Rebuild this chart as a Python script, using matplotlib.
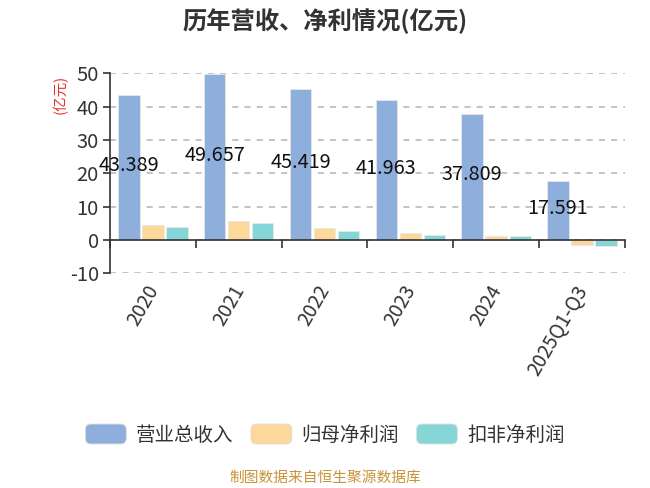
import numpy as np
import matplotlib
matplotlib.use('Agg')
import matplotlib.pyplot as plt
import matplotlib.transforms as mtransforms
from matplotlib.patches import Patch, FancyBboxPatch
from matplotlib.legend_handler import HandlerPatch

plt.rcParams['font.family'] = ['Noto Sans CJK SC', 'DejaVu Sans']
plt.rcParams['axes.unicode_minus'] = False

# data
categories = ['2020', '2021', '2022', '2023', '2024', '2025Q1-Q3']
revenue = [43.389, 49.657, 45.419, 41.963, 37.809, 17.591]
net_profit = [4.6, 5.6, 3.5, 2.0, 1.3, -1.4]
deducted_profit = [3.9, 5.2, 2.6, 1.5, 1.2, -1.7]
series_names = ['营业总收入', '归母净利润', '扣非净利润']
colors = ['#8eaedb', '#fed89a', '#86d6d8']

fig = plt.figure(figsize=(6.5, 4.88), dpi=100)
ax = fig.add_axes([0.1692, 0.44, 0.7923, 0.4098])

x = np.arange(len(categories))
w = 0.25
step = 0.28
for i, vals in enumerate([revenue, net_profit, deducted_profit]):
    ax.bar(x + (i - 1) * step, vals, width=w, color=colors[i],
           edgecolor='#e8e8e8', linewidth=0.6, zorder=3)

# value labels in the middle of revenue bars
for xi, v in zip(x, revenue):
    ax.text(xi - step, v / 2 + 0.6, f'{v:.3f}', ha='center', va='center',
            fontsize=14.3, color='#111111', zorder=5)

ymin, ymax = -10, 50
ax.set_xlim(-0.5, len(categories) - 0.5)
ax.set_ylim(ymin, ymax)
ax.set_yticks([-10, 0, 10, 20, 30, 40, 50])
ax.yaxis.grid(True, linestyle=(0, (4, 4)), color='#b4b4b4', linewidth=1.1, zorder=0)

for s in ['top', 'right', 'bottom']:
    ax.spines[s].set_visible(False)
ax.spines['left'].set_color('#333333')
ax.spines['left'].set_linewidth(1.2)

ax.set_xticks(x)
ax.set_xticklabels(categories, rotation=60, ha='right', rotation_mode='anchor',
                   fontsize=14, color='#333333')
ax.tick_params(axis='x', length=0, pad=6)
# nudge rotated labels a little to the left, like the original
shift = mtransforms.ScaledTranslation(-8 / 100, 0, fig.dpi_scale_trans)
for lbl in ax.get_xticklabels():
    lbl.set_transform(lbl.get_transform() + shift)
ax.tick_params(axis='y', labelsize=14.5, labelcolor='#333333', color='#333333',
               length=5, width=1.2, pad=3)

# zero line with category boundary ticks
zero_ax = ax.secondary_xaxis((0 - ymin) / (ymax - ymin))
zero_ax.set_xticks(np.arange(-0.5, len(categories)))
zero_ax.tick_params(axis='x', length=6, width=1.2, color='#333333', labelbottom=False)
zero_ax.spines['bottom'].set_color('#333333')
zero_ax.spines['bottom'].set_linewidth(1.2)
zero_ax.set_zorder(4)

fig.text(0.5, 0.957, '历年营收、净利情况(亿元)', ha='center', va='center',
         fontsize=17.5, fontweight='bold', color='#333333')
fig.text(0.092, 0.807, '(亿元)', rotation=90, ha='center', va='center',
         fontsize=10.5, color='#e83030')


class RoundHandler(HandlerPatch):
    def create_artists(self, legend, orig_handle, xdescent, ydescent, width, height, fontsize, trans):
        p = FancyBboxPatch((-xdescent, -ydescent), width, height,
                           boxstyle='round,pad=0,rounding_size=4',
                           facecolor=orig_handle.get_facecolor(),
                           edgecolor='#dddddd', linewidth=0.6, transform=trans)
        return [p]


handles = [Patch(facecolor=c) for c in colors]
fig.legend(handles, series_names, loc='center', bbox_to_anchor=(0.5, 0.109),
           ncol=3, frameon=False, fontsize=14, handlelength=2.1, handleheight=1.2,
           columnspacing=0.9, handletextpad=0.5, labelcolor='#333333',
           handler_map={Patch: RoundHandler()})

fig.text(0.5, 0.02, '制图数据来自恒生聚源数据库', ha='center', va='center',
         fontsize=10.6, color='#c8943a')

fig.savefig('out.png', dpi=100)
